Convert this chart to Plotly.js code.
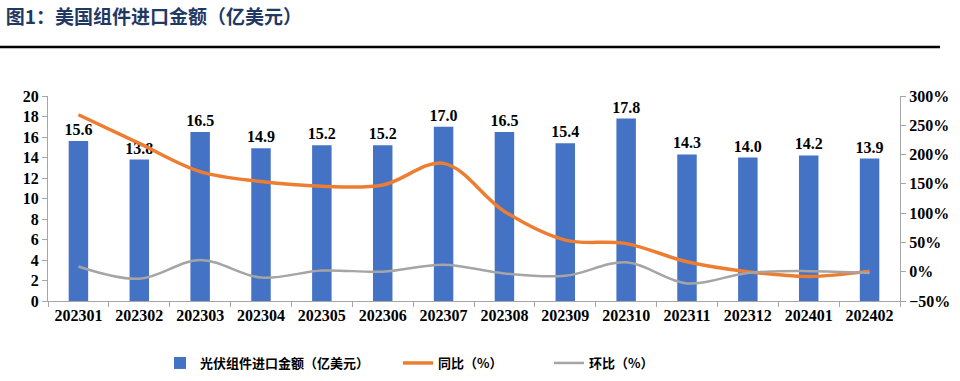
<!DOCTYPE html>
<html><head><meta charset="utf-8">
<script src="https://cdn.plot.ly/plotly-3.0.1.min.js"></script>
<style>html,body{margin:0;padding:0;background:#fff;}#c{width:960px;height:381px;}</style>
</head><body><div id="c"></div>
<script>
const months = ['202301','202302','202303','202304','202305','202306','202307','202308','202309','202310','202311','202312','202401','202402'];
const importValue = [15.6,13.8,16.5,14.9,15.2,15.2,17.0,16.5,15.4,17.8,14.3,14.0,14.2,13.9];
const yoyPct = [268,219,171,154,146,148,185,103,54,48,17,0,-8,1];
const momPct = [9,-12,20,-10,2,0,12,-3,-7,16,-20,-2,1,-2];

const serif = 'Liberation Serif';
const cjk = 'Noto Sans CJK SC';

const traces = [
  {type:'bar', x:months, y:importValue, name:'光伏组件进口金额（亿美元）',
   marker:{color:'#4472C4'}, width:0.32,
   text:importValue.map(v=>'<b>'+v.toFixed(1)+'</b>'), textposition:'outside', cliponaxis:false, constraintext:'none',
   textfont:{family:serif, size:16, color:'#000'}, legend:'legend'},
  {type:'scatter', mode:'lines', x:months, y:yoyPct, yaxis:'y2', name:'同比（%）',
   line:{color:'#ED7D31', width:3.5, shape:'spline', smoothing:1}, legend:'legend2'},
  {type:'scatter', mode:'lines', x:months, y:momPct, yaxis:'y2', name:'环比（%）',
   line:{color:'#A5A5A5', width:2.5, shape:'spline', smoothing:1}, legend:'legend3'}
];

const legBase = {orientation:'h', yanchor:'middle', yref:'container', y:(381-363)/381, xanchor:'left', xref:'container',
  font:{family:cjk, size:13, color:'#000', weight:'bold'}, bgcolor:'rgba(0,0,0,0)', itemwidth:30};

const tickFont = {family:serif, size:16, color:'#000', weight:'bold'};
const layout = {
  width:960, height:381,
  margin:{l:48, r:60, t:96, b:80, autoexpand:false},
  paper_bgcolor:'#fff', plot_bgcolor:'#fff',
  showlegend:true,
  title:{text:'<b>图1：美国组件进口金额（亿美元）</b>', font:{family:cjk, size:19, color:'#1F3864'},
    x:0.006, xanchor:'left', xref:'container', y:0.955, yanchor:'middle', yref:'container'},
  xaxis:{type:'category', showline:true, linecolor:'#A6A6A6', linewidth:1,
    ticks:'outside', tickson:'boundaries', ticklen:5, tickcolor:'#A6A6A6',
    tickfont:tickFont, showgrid:false, zeroline:false},
  yaxis:{range:[0,20], dtick:2, showline:true, linecolor:'#A6A6A6', ticks:'outside', ticklen:5, tickcolor:'#A6A6A6',
    tickfont:tickFont, showgrid:false, zeroline:false},
  yaxis2:{range:[-50,300], dtick:50, overlaying:'y', side:'right', ticksuffix:'%',
    showline:true, linecolor:'#A6A6A6', ticks:'outside', ticklen:5, tickcolor:'#A6A6A6',
    tickfont:tickFont, showgrid:false, zeroline:false},
  legend: Object.assign({}, legBase, {x:160/960}),
  legend2: Object.assign({}, legBase, {x:398/960}),
  legend3: Object.assign({}, legBase, {x:549/960}),
  shapes:[{type:'line', xref:'paper', yref:'paper', x0:-48/852, x1:(940-48)/852, y0:(301-47)/205, y1:(301-47)/205,
    line:{color:'#000', width:2.5}}]
};
Plotly.newPlot('c', traces, layout, {displayModeBar:false, staticPlot:true});
</script></body></html>
